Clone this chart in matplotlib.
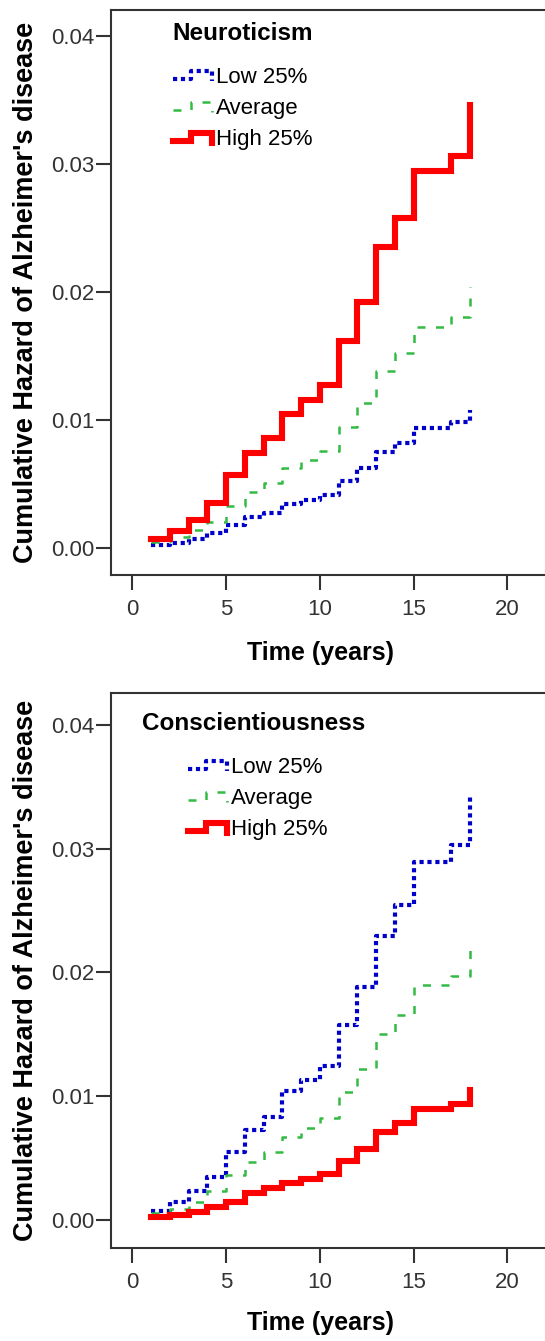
import numpy as np
import matplotlib.pyplot as plt
from matplotlib.legend_handler import HandlerLine2D

plt.rcParams['font.family'] = ['Liberation Sans', 'DejaVu Sans']

# Cumulative hazard, one level per year (step at each year, last value = jump at 18)
years = np.arange(1, 19)

neuro_low = [0.00023, 0.00041, 0.00068, 0.00115, 0.0018, 0.00245, 0.00271, 0.00344, 0.00375,
             0.00414, 0.00523, 0.00622, 0.00752, 0.00823, 0.00935, 0.00935, 0.00987, 0.01078]
neuro_avg = [0.0005, 0.00083, 0.0014, 0.00206, 0.0033, 0.00435, 0.0051, 0.00622, 0.00688,
             0.00758, 0.00948, 0.0113, 0.01383, 0.01526, 0.01729, 0.01729, 0.01807, 0.02041]
neuro_high = [0.00068, 0.00135, 0.00219, 0.00354, 0.0057, 0.00745, 0.00857, 0.0105, 0.01156,
              0.01273, 0.0162, 0.01924, 0.02354, 0.0258, 0.02948, 0.02948, 0.03065, 0.03461]

consc_low = [0.00075, 0.00143, 0.00237, 0.0035, 0.00552, 0.00727, 0.00835, 0.01045, 0.01131,
             0.01244, 0.01576, 0.01885, 0.02295, 0.02545, 0.02895, 0.02895, 0.0303, 0.0342]
consc_avg = [0.00054, 0.00086, 0.00148, 0.00237, 0.00364, 0.00466, 0.00552, 0.00673, 0.00741,
             0.00822, 0.01032, 0.0122, 0.01501, 0.01657, 0.01899, 0.01899, 0.01972, 0.02236]
consc_high = [0.00022, 0.0004, 0.00067, 0.00102, 0.00148, 0.00216, 0.00256, 0.00296, 0.00331,
              0.00372, 0.00477, 0.00571, 0.00709, 0.00787, 0.00895, 0.00895, 0.00937, 0.0105]

labels = ['Low 25%', 'Average', 'High 25%']
xticks = [0, 5, 10, 15, 20]
yticks = [0.00, 0.01, 0.02, 0.03, 0.04]

styles = [
    dict(color='#0000c8', lw=3.0, linestyle=(0, (1, 0.9)), dash_capstyle='butt'),
    dict(color='#33bb44', lw=1.8, linestyle=(0, (3.2, 4.2)), dash_capstyle='butt'),
    dict(color='#ff0000', lw=4.4, linestyle='-', solid_joinstyle='miter'),
]


# legend handle drawn as a small step, like the SPSS one
class StepHandler(HandlerLine2D):
    def create_artists(self, legend, orig_handle, xdescent, ydescent, width, height, fontsize, trans):
        xs = np.array([0, 0.45, 0.45, 1.0, 1.0]) * width - xdescent
        ys = np.array([0.25, 0.25, 0.75, 0.75, 0.15]) * height - ydescent
        line = plt.Line2D(xs, ys)
        self.update_prop(line, orig_handle, legend)
        line.set_transform(trans)
        return [line]


fig = plt.figure(figsize=(5.45, 13.41), dpi=100)
W, H = 545, 1341


def panel(rect, ylim, title, title_xy, leg_xy, xlab_y, series):
    ax = fig.add_axes(rect)
    handles = []
    for vals, st, lab in zip(series, styles, labels):
        h, = ax.plot(years, vals, drawstyle='steps-post', label=lab, **st)
        handles.append(h)
    ax.set_xlim(-1.152, 23.55)
    ax.set_ylim(*ylim)
    ax.set_xticks(xticks)
    ax.set_yticks(yticks)
    ax.set_yticklabels(['%.2f' % v for v in yticks])
    ax.tick_params(direction='out', length=11, width=1.5, color='#333333',
                   labelsize=16, labelcolor='#333333')
    ax.tick_params(axis='y', pad=1)
    ax.tick_params(axis='x', pad=6)
    ax.spines['right'].set_visible(False)
    for s in ax.spines.values():
        s.set_linewidth(1.5)
        s.set_color('#333333')
    ax.set_ylabel("Cumulative Hazard of Alzheimer's disease", fontsize=19.5,
                  fontweight='bold')
    ax.yaxis.set_label_coords(-0.155, 0.5)
    ax.set_xlabel('Time (years)', fontsize=18, fontweight='bold', va='center')
    ax.xaxis.set_label_coords((320 - rect[0] * W) / (rect[2] * W), -xlab_y / (rect[3] * H))
    fig.text(title_xy[0] / W, 1 - title_xy[1] / H, title, fontsize=17.5,
             fontweight='bold', va='center', ha='left')
    ax.legend(handles=handles, loc='upper left', bbox_to_anchor=(leg_xy[0] / W, 1 - leg_xy[1] / H),
              bbox_transform=fig.transFigure, frameon=False, fontsize=16,
              handlelength=1.75, handletextpad=0.2, labelspacing=0.45,
              borderpad=0, borderaxespad=0,
              handler_map={plt.Line2D: StepHandler()})
    return ax


panel([110.7 / W, 1 - 575 / H, 0.85, 565 / H], (-0.00211, 0.04203),
      'Neuroticism', (172, 33), (173, 67), 78,
      [neuro_low, neuro_avg, neuro_high])

panel([110.7 / W, 1 - 1248.3 / H, 0.85, 555 / H], (-0.00229, 0.04256),
      'Conscientiousness', (142, 723), (188, 757), 75,
      [consc_low, consc_avg, consc_high])

fig.savefig('out.png', dpi=100)
